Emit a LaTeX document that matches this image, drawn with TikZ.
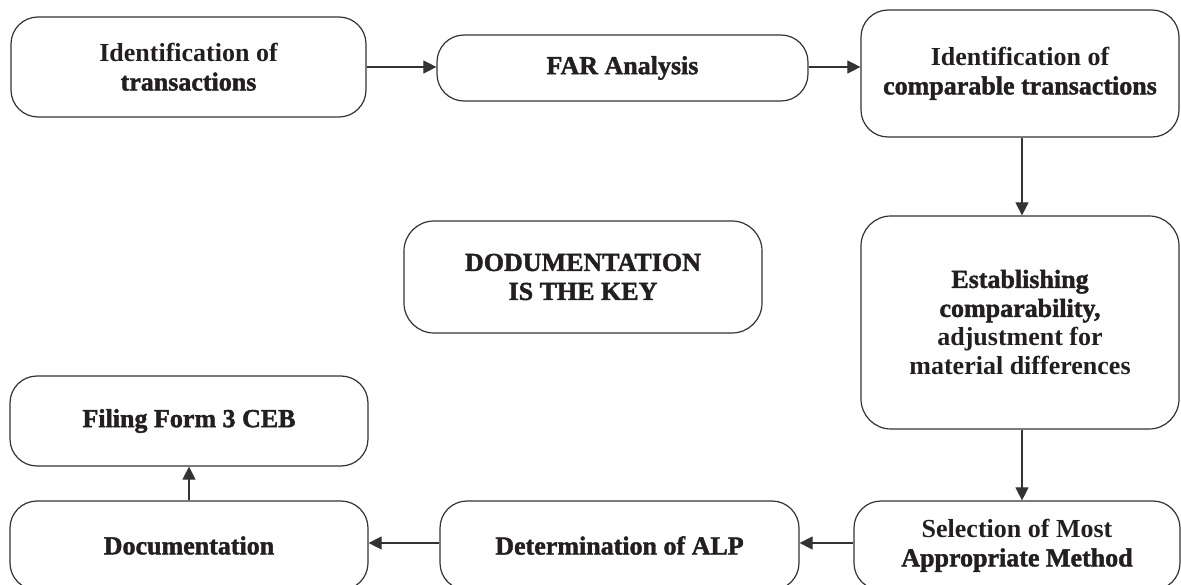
\documentclass[tikz,border=0pt]{standalone}
\usepackage{fontspec}
\setmainfont{Liberation Serif}[BoldFeatures={FakeBold=1.6}]
\newfontfamily\medfont{Liberation Serif}
\usetikzlibrary{arrows.meta}
\definecolor{ink}{HTML}{231F20}
\definecolor{edge}{HTML}{333333}
\tikzset{
  box/.style={draw=edge, line width=1.2pt, rounded corners=27pt, align=center,
    font=\fontsize{26}{29}\selectfont\bfseries, text=ink, inner sep=0pt},
  flow/.style={draw=edge, line width=1.1pt, -{Triangle[length=13pt,width=13pt]}},
}
\newcommand{\md}[1]{{\medfont\bfseries #1}}
\begin{document}
\begin{tikzpicture}[x=1pt,y=-1pt]
\useasboundingbox (0,0) rectangle (1181,585);
\clip (0,0) rectangle (1181,585);
\node[box, minimum width=355pt, minimum height=100pt] (A) at (188.5,67) {\md{Identification of}\\transactions};
\node[box, minimum width=371pt, minimum height=66pt] (B) at (622.5,68) {FAR Analysis};
\node[box, minimum width=318pt, minimum height=127pt] (C) at (1020,73.5) {\md{Identification of}\\comparable transactions};
\node[box, minimum width=318pt, minimum height=213pt, rounded corners=30pt] (D) at (1020,322.5) {Establishing\\comparability,\\\md{adjustment for}\\\md{material differences}};
\node[box, minimum width=326pt, minimum height=89pt] (E) at (1017,545.5) {\md{Selection of Most}\\Appropriate Method};
\node[box, minimum width=359pt, minimum height=89pt] (F) at (619.5,545.5) {Determination of ALP};
\node[box, minimum width=358pt, minimum height=89pt] (G) at (189,545.5) {Documentation};
\node[box, minimum width=358pt, minimum height=90pt] (H) at (189,421) {Filing Form 3 CEB};
\node[box, minimum width=358pt, minimum height=112pt, rounded corners=30pt] (K) at (583,277) {DODUMENTATION\\IS THE KEY};
\draw[flow] (A.east) -- (A.east -| B.west);
\draw[flow] (B.east |- A.east) -- (A.east -| C.west);
\draw[flow] ([xshift=2pt]C.south) -- ([xshift=2pt]C.south |- D.north);
\draw[flow] ([xshift=2pt]D.south) -- ([xshift=2pt]D.south |- E.north);
\draw[flow] ([yshift=2.5pt]E.west) -- ([yshift=2.5pt]E.west -| F.east);
\draw[flow] ([yshift=2.5pt]F.west) -- ([yshift=2.5pt]F.west -| G.east);
\draw[flow] (G.north) -- (H.south);
\end{tikzpicture}
\end{document}
